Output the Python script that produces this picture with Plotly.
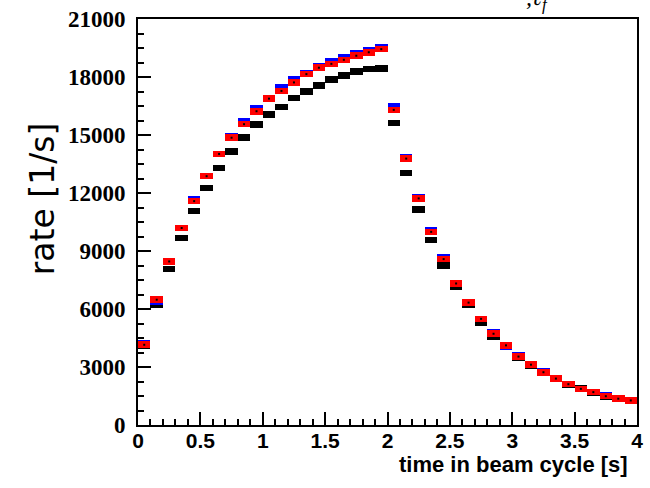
import plotly.graph_objects as go

# bin centers of time in beam cycle [s]
time_s = [0.05, 0.15, 0.25, 0.35, 0.45, 0.55, 0.65, 0.75, 0.85, 0.95,
          1.05, 1.15, 1.25, 1.35, 1.45, 1.55, 1.65, 1.75, 1.85, 1.95,
          2.05, 2.15, 2.25, 2.35, 2.45, 2.55, 2.65, 2.75, 2.85, 2.95,
          3.05, 3.15, 3.25, 3.35, 3.45, 3.55, 3.65, 3.75, 3.85, 3.95]

rate_black = [4100, 6200, 8080, 9680, 11080, 12260, 13290, 14150, 14880, 15540,
              16060, 16450, 16920, 17240, 17550, 17860, 18080, 18270, 18410, 18440,
              15610, 13040, 11150, 9560, 8240, 7150, 6200, 5300, 4580, 4060,
              3500, 3060, 2700, 2380, 2090, 1920, 1690, 1480, 1340, 1260]

rate_blue = [4230, 6380, 8460, 10190, 11680, 12870, 14020, 14920, 15700, 16370,
             16900, 17450, 17890, 18200, 18560, 18800, 19040, 19250, 19400, 19560,
             16470, 13830, 11780, 10060, 8680, 7320, 6330, 5490, 4780, 4060,
             3590, 3120, 2790, 2440, 2110, 1870, 1700, 1540, 1400, 1270]

rate_red = [4150, 6480, 8460, 10190, 11580, 12870, 14020, 14860, 15560, 16230,
            16880, 17280, 17720, 18150, 18480, 18680, 18890, 19100, 19280, 19440,
            16300, 13780, 11720, 9990, 8580, 7320, 6330, 5490, 4720, 4120,
            3540, 3120, 2730, 2400, 2110, 1870, 1700, 1490, 1360, 1270]

y_ticks = [0, 3000, 6000, 9000, 12000, 15000, 18000, 21000]
x_ticks = [0, 0.5, 1, 1.5, 2, 2.5, 3, 3.5, 4]
x_ticklabels = ["0", "0.5", "1", "1.5", "2", "2.5", "3", "3.5", "4"]

HALF = 170    # half height of error box (style)
BIN_W = 0.1

fig = go.Figure()


def add_boxes(vals, color):
    fig.add_trace(go.Bar(
        x=time_s,
        y=[2 * HALF for _ in vals],
        base=[v - HALF for v in vals],
        width=BIN_W,
        marker=dict(color=color, line=dict(width=0)),
        showlegend=False,
        hoverinfo="skip",
    ))


add_boxes(rate_black, "#000000")
add_boxes(rate_blue, "#0000ff")
add_boxes(rate_red, "#ff0000")

fig.add_trace(go.Scatter(
    x=time_s, y=rate_red, mode="markers",
    marker=dict(symbol="square", size=2, line=dict(width=0), color="black"),
    showlegend=False, hoverinfo="skip",
))

fig.update_layout(
    width=650, height=488,
    margin=dict(l=138, r=7, t=17, b=63),
    paper_bgcolor="white", plot_bgcolor="white",
    barmode="overlay",
    bargap=0,
)

fig.update_xaxes(
    range=[0, 4],
    tickvals=x_ticks, ticktext=x_ticklabels,
    ticks="inside", ticklen=13, tickwidth=2, tickcolor="black",
    minor=dict(ticks="inside", dtick=0.1, ticklen=6, tickwidth=2, tickcolor="black"),
    showline=True, linewidth=2, linecolor="black", mirror=True,
    showgrid=False, zeroline=False,
    tickfont=dict(family="Liberation Sans", size=21, color="black", weight="bold"),
    ticklabelstandoff=-4,
)

fig.update_yaxes(
    range=[0, 21000],
    tickvals=y_ticks, ticktext=[str(v) for v in y_ticks],
    ticks="inside", ticklen=13, tickwidth=2, tickcolor="black",
    minor=dict(ticks="inside", dtick=750, ticklen=6, tickwidth=2, tickcolor="black"),
    showline=True, linewidth=2, linecolor="black", mirror=True,
    showgrid=False, zeroline=False,
    tickfont=dict(family="Liberation Serif", size=23, color="black", weight="bold"),
    ticklabelstandoff=6,
)

fig.add_annotation(
    text="time in beam cycle [s]", xref="paper", yref="paper",
    x=(636 - 138) / 505, y=-(465 - 425) / 408,
    xanchor="right", yanchor="middle", showarrow=False,
    font=dict(family="Liberation Sans", size=22, color="black", weight="bold"),
)

fig.add_annotation(
    text="rate [1/s]", xref="paper", yref="paper",
    x=-(138 - 41) / 505, y=(425 - 198) / 408,
    xanchor="center", yanchor="middle", textangle=-90, showarrow=False,
    font=dict(family="DejaVu Sans", size=33, color="black"),
)

fig.add_annotation(
    text="<i>,ℓ<sub>f</sub></i>", xref="paper", yref="paper",
    x=(542 - 138) / 505, y=(425 - 14) / 408,
    xanchor="center", yanchor="bottom", showarrow=False,
    font=dict(family="Liberation Serif", size=24, color="black"),
)

fig.write_html("out.html")
